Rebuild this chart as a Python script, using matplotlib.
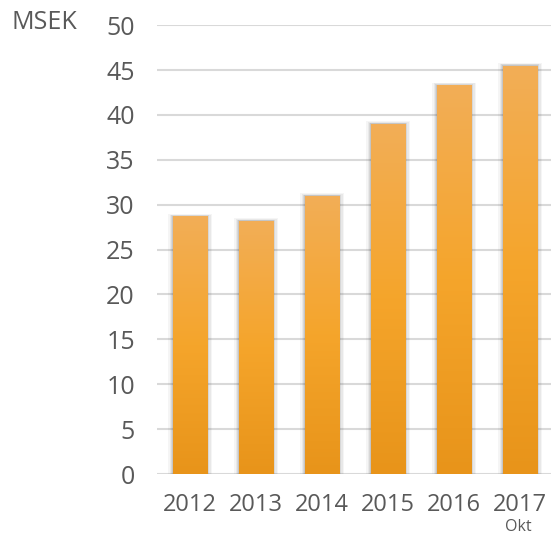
import numpy as np
import matplotlib
matplotlib.use("Agg")
import matplotlib.pyplot as plt
from matplotlib.colors import LinearSegmentedColormap
from matplotlib.patches import Rectangle

years = ["2012", "2013", "2014", "2015", "2016", "2017"]
values = [28.7, 28.2, 31.0, 39.0, 43.3, 45.5]
yticks = [0, 5, 10, 15, 20, 25, 30, 35, 40, 45, 50]

plt.rcParams['font.family'] = ['Open Sans', 'DejaVu Sans']
txt = '#595959'

fig = plt.figure(figsize=(5.51, 5.35), dpi=100)
ax = fig.add_axes([0.285, 0.114, 0.719, 0.839])

# gradient: light at top, darker at bottom
cmap = LinearSegmentedColormap.from_list('bar', ['#E8941A', '#F5A52B', '#F2AE57'])
grad = np.linspace(0, 1, 256).reshape(-1, 1)

width = 0.52
x = np.arange(len(years))
for xi, v in zip(x, values):
    # soft shadow
    for k, a in [(0.07, 0.05), (0.05, 0.07), (0.03, 0.1), (0.015, 0.12)]:
        ax.add_patch(Rectangle((xi - width / 2 - k, -0.25), width + 2 * k, v + 0.25 + k * 4,
                               facecolor='#444444', alpha=a, edgecolor='none', zorder=2))
    rect = Rectangle((xi - width / 2, 0), width, v, facecolor='none', edgecolor='none', zorder=3)
    ax.add_patch(rect)
    im = ax.imshow(grad, cmap=cmap, aspect='auto', origin='lower',
                   extent=[xi - width / 2, xi + width / 2, 0, v], zorder=3)
    im.set_clip_path(rect)

ax.set_xlim(-0.5, 5.5)
ax.set_ylim(0, 50)
ax.set_yticks(yticks)
ax.set_xticks(x)
ax.set_xticklabels(years)
ax.yaxis.grid(True, color='#D9D9D9', linewidth=1.5)
ax.set_axisbelow(True)
for s in ax.spines.values():
    s.set_visible(False)
ax.tick_params(length=0, colors=txt)
ax.tick_params(axis='y', pad=16, labelsize=18)
ax.tick_params(axis='x', pad=14, labelsize=17)

fig.text(0.02, 0.958, 'MSEK', fontsize=18, color=txt, va='center', ha='left')
ax.text(4.97, -0.117, 'Okt', transform=ax.get_xaxis_transform(), fontsize=11.5, color=txt,
        ha='center', va='center')

fig.savefig('out.png', dpi=100)
